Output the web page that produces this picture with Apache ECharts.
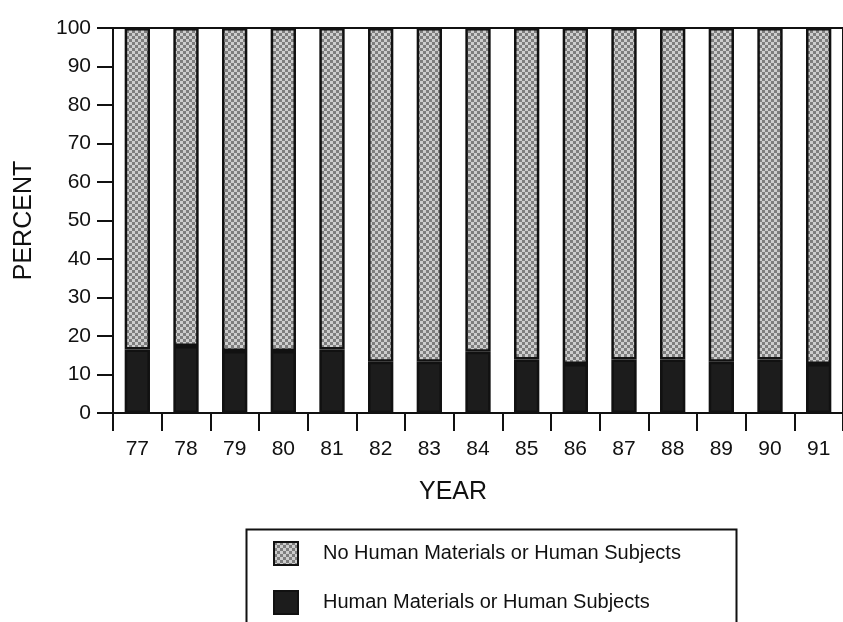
<!DOCTYPE html>
<html>
<head>
<meta charset="utf-8">
<script src="https://cdn.jsdelivr.net/npm/echarts@6/dist/echarts.min.js"></script>
<style>
  html, body { margin: 0; padding: 0; background: #fff; }
  #chart { width: 843px; height: 622px; }
</style>
</head>
<body>
<div id="chart"></div>
<script>
// Share of projects by year, split by use of human materials / subjects
const years = ['77', '78', '79', '80', '81', '82', '83', '84', '85', '86', '87', '88', '89', '90', '91'];
const humanPct = [16.5, 17.4, 16.1, 16.1, 16.5, 13.3, 13.3, 15.9, 13.9, 12.7, 13.9, 13.9, 13.3, 13.9, 12.7];
const noHumanPct = [83.5, 82.6, 83.9, 83.9, 83.5, 86.7, 86.7, 84.1, 86.1, 87.3, 86.1, 86.1, 86.7, 86.1, 87.3];
const yTicks = { min: 0, max: 100, interval: 10 };

const NAME_NO = 'No Human Materials or Human Subjects';
const NAME_YES = 'Human Materials or Human Subjects';
const FONT = "'Liberation Sans', Arial, Helvetica, sans-serif";

// Stipple fill: small checkerboard of two greys
function stipple() {
  const c = document.createElement('canvas');
  const s = 3;
  c.width = s * 2; c.height = s * 2;
  const g = c.getContext('2d');
  g.fillStyle = '#cdcdcd';
  g.fillRect(0, 0, s * 2, s * 2);
  g.fillStyle = '#7e7e7e';
  g.fillRect(0, 0, s, s);
  g.fillRect(s, s, s, s);
  return c;
}
const grayFill = { image: stipple(), repeat: 'repeat' };

const chart = echarts.init(document.getElementById('chart'), null, { renderer: 'canvas' });
chart.setOption({
  animation: false,
  backgroundColor: '#fff',
  textStyle: { fontFamily: FONT, color: '#111' },
  grid: {
    left: 113, right: -6, top: 28, bottom: 209,
    show: true, borderColor: '#111', borderWidth: 2, backgroundColor: 'transparent'
  },
  // frame around the legend
  graphic: [{
    type: 'rect',
    left: 244, top: 527,
    shape: { width: 490, height: 120 },
    style: { fill: 'none', stroke: '#111', lineWidth: 2 },
    silent: true
  }],
  legend: {
    orient: 'vertical',
    left: 273, top: 541,
    data: [NAME_NO, NAME_YES],
    icon: 'rect',
    itemWidth: 24, itemHeight: 23,
    itemGap: 24,
    padding: 0,
    textStyle: { fontFamily: FONT, fontSize: 20, color: '#111', padding: [0, 0, 0, 20] }
  },
  xAxis: {
    type: 'category',
    data: years,
    name: 'YEAR',
    nameLocation: 'middle',
    nameGap: 67,
    nameTextStyle: { fontFamily: FONT, fontSize: 25, color: '#111', padding: [0, 50, 0, 0] },
    axisLine: { show: true, lineStyle: { color: '#111', width: 2 } },
    axisTick: { show: true, alignWithLabel: false, length: 18, lineStyle: { color: '#111', width: 2 } },
    axisLabel: { fontFamily: FONT, fontSize: 21, color: '#111', margin: 26 },
    splitLine: { show: false }
  },
  yAxis: {
    type: 'value',
    min: yTicks.min, max: yTicks.max, interval: yTicks.interval,
    name: 'PERCENT',
    nameLocation: 'middle',
    nameGap: 76,
    nameTextStyle: { fontFamily: FONT, fontSize: 25, color: '#111' },
    axisLine: { show: true, lineStyle: { color: '#111', width: 2 } },
    axisTick: { show: true, length: 16, lineStyle: { color: '#111', width: 2 } },
    axisLabel: { fontFamily: FONT, fontSize: 21, color: '#111', margin: 22 },
    splitLine: { show: false }
  },
  series: [
    {
      name: NAME_YES,
      type: 'bar',
      stack: 'total',
      barWidth: '52%',
      data: humanPct,
      itemStyle: { color: '#1c1c1c', borderColor: '#111', borderWidth: 2.5 }
    },
    {
      name: NAME_NO,
      type: 'bar',
      stack: 'total',
      barWidth: '52%',
      data: noHumanPct,
      itemStyle: { color: grayFill, borderColor: '#111', borderWidth: 2.5 }
    }
  ]
});
</script>
</body>
</html>
